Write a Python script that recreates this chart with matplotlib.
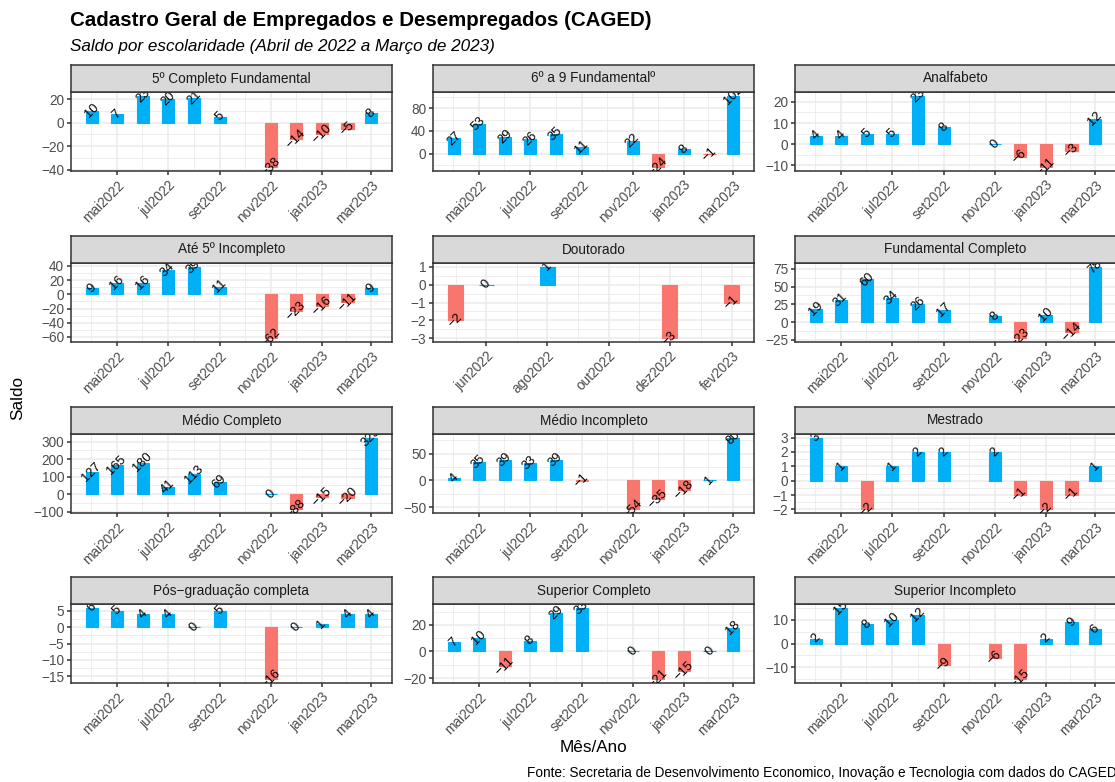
import matplotlib
matplotlib.use("Agg")
import matplotlib.pyplot as plt
import matplotlib.dates as mdates
import numpy as np
import pandas as pd

plt.rcParams["font.family"] = ["Liberation Sans", "DejaVu Sans"]

# ------------------------------------------------------------
# dados (saldo mensal por escolaridade, abr/2022 a mar/2023)
# None = mês sem registro
# ------------------------------------------------------------
meses = pd.date_range("2022-04-01", periods=12, freq="MS")
meses_pt = ["jan", "fev", "mar", "abr", "mai", "jun",
            "jul", "ago", "set", "out", "nov", "dez"]

completo_fund_5 = [10, 7, 23, 20, 21, 5, None, -38, -14, -10, -5, 8]
fund_6a9 = [27, 53, 29, 26, 35, 11, None, 22, -24, 8, -1, 102]
analfabeto = [4, 4, 5, 5, 23, 8, None, 0, -6, -11, -3, 12]
ate_5_incompleto = [9, 16, 16, 34, 39, 11, None, -62, -23, -16, -11, 9]
doutorado = [None, -2, 0, None, 1, None, None, None, -3, None, -1, None]
fund_completo = [19, 31, 60, 34, 26, 17, None, 8, -23, 10, -14, 78]
medio_completo = [127, 165, 180, 41, 113, 69, None, 0, -88, -15, -20, 323]
medio_incompleto = [4, 35, 39, 33, 39, -1, None, -54, -35, -18, 1, 80]
mestrado = [3, 1, -2, 1, 2, 2, None, 2, -1, -2, -1, 1]
pos_grad = [6, 5, 4, 4, 0, 5, None, -16, 0, 1, 4, 4]
superior_completo = [7, 10, -11, 8, 29, 33, None, 0, -21, -15, 0, 18]
superior_incompleto = [2, 15, 8, 10, 12, -9, None, -6, -15, 2, 9, 6]

titulos = ["5º Completo Fundamental", "6º a 9 Fundamentalº", "Analfabeto",
           "Até 5º Incompleto", "Doutorado", "Fundamental Completo",
           "Médio Completo", "Médio Incompleto", "Mestrado",
           "Pós−graduação completa", "Superior Completo", "Superior Incompleto"]
series = [completo_fund_5, fund_6a9, analfabeto,
          ate_5_incompleto, doutorado, fund_completo,
          medio_completo, medio_incompleto, mestrado,
          pos_grad, superior_completo, superior_incompleto]
yticks = [[-40, -20, 0, 20], [0, 40, 80], [-10, 0, 10, 20],
          [-60, -40, -20, 0, 20, 40], [-3, -2, -1, 0, 1], [-25, 0, 25, 50, 75],
          [-100, 0, 100, 200, 300], [-50, 0, 50], [-2, -1, 0, 1, 2, 3],
          [-15, -10, -5, 0, 5], [-20, 0, 20], [-10, 0, 10]]

# ------------------------------------------------------------
# estilo
# ------------------------------------------------------------
AZUL = "#00B0F6"
VERMELHO = "#F8766D"
GRID = "#EBEBEB"
BORDA = "#333333"
W, H = 1115, 782
LARG_BARRA = 15  # dias
K = 1.12  # escala das fontes

col_left = [71, 433, 795]
row_top = [65, 236, 407, 577]
panel_w, strip_h, panel_h = 321, 27, 79


def rect(left, top, w, h):
    return [left / W, 1 - (top + h) / H, w / W, h / H]


def fmt(v):
    return str(int(v)).replace("-", "\u2212")


def rotulo_mes(d):
    return f"{meses_pt[d.month - 1]}{d.year}"


fig = plt.figure(figsize=(W / 100, H / 100), dpi=100)

for i, (titulo, vals, yt) in enumerate(zip(titulos, series, yticks)):
    r, c = divmod(i, 3)
    left, top = col_left[c], row_top[r]

    v = np.array([np.nan if a is None else a for a in vals], dtype=float)
    ok = ~np.isnan(v)
    datas = meses[ok]
    x = mdates.date2num(datas)
    y = v[ok]
    cores = np.where(y >= 0, AZUL, VERMELHO)

    ax = fig.add_axes(rect(left, top + strip_h, panel_w, panel_h))
    ax.bar(x, y, width=LARG_BARRA, color=cores, edgecolor=cores,
           linewidth=0.8, zorder=2)
    for xi, yi in zip(x, y):
        ax.text(xi, yi, fmt(yi), rotation=45, ha="center", va="center",
                fontsize=8.3 * K, color="black", zorder=3, clip_on=True)

    # limites no estilo ggplot (expansão de 5%)
    lo, hi = x.min() - LARG_BARRA / 2, x.max() + LARG_BARRA / 2
    pad = 0.05 * (hi - lo)
    ax.set_xlim(lo - pad, hi + pad)
    ymin, ymax = min(0, y.min()), max(0, y.max())
    ypad = 0.05 * (ymax - ymin)
    ax.set_ylim(ymin - ypad, ymax + ypad)

    # quebras de data a cada 2 meses
    maj = pd.date_range(datas[0] - pd.DateOffset(months=1),
                        datas[-1] + pd.DateOffset(months=3), freq="2MS")
    majn = mdates.date2num(maj)
    minn = (majn[:-1] + majn[1:]) / 2
    xl = ax.get_xlim()
    sel = (majn >= xl[0]) & (majn <= xl[1])
    ax.set_xticks(majn[sel])
    ax.set_xticklabels([rotulo_mes(d) for d in maj[sel]])
    ax.set_xticks(minn[(minn >= xl[0]) & (minn <= xl[1])], minor=True)

    yt = np.array(yt, dtype=float)
    step = yt[1] - yt[0]
    ymn = np.concatenate([[yt[0] - step / 2], (yt[:-1] + yt[1:]) / 2, [yt[-1] + step / 2]])
    yl = ax.get_ylim()
    ax.set_yticks(yt)
    ax.set_yticklabels([fmt(t) for t in yt])
    ax.set_yticks(ymn[(ymn >= yl[0]) & (ymn <= yl[1])], minor=True)

    ax.grid(which="major", color=GRID, linewidth=1.1, zorder=0)
    ax.grid(which="minor", color=GRID, linewidth=0.6, zorder=0)
    ax.set_axisbelow(True)
    for s in ax.spines.values():
        s.set_color(BORDA)
        s.set_linewidth(1.1)
    ax.tick_params(which="major", length=3, width=1.1, color=BORDA,
                   labelsize=8.8 * K, labelcolor="#4D4D4D", pad=2)
    ax.tick_params(which="minor", length=0)
    for lab in ax.get_xticklabels():
        lab.set_rotation(45)
        lab.set_ha("right")
        lab.set_va("top")
        lab.set_rotation_mode("anchor")

    # faixa do título do painel
    sx = fig.add_axes(rect(left, top, panel_w, strip_h))
    sx.set_facecolor("#D9D9D9")
    sx.set_xticks([])
    sx.set_yticks([])
    for s in sx.spines.values():
        s.set_color(BORDA)
        s.set_linewidth(1.1)
    sx.text(0.5, 0.5, titulo, ha="center", va="center", fontsize=8.8 * K,
            color="#1A1A1A", transform=sx.transAxes)

fig.text(70 / W, 1 - 20 / H, "Cadastro Geral de Empregados e Desempregados (CAGED)",
         fontsize=13.2 * K, fontweight="bold", ha="left", va="center")
fig.text(70 / W, 1 - 47 / H, "Saldo por escolaridade (Abril de 2022 a Março de 2023)",
         fontsize=11 * K, style="italic", ha="left", va="center")
fig.text(18 / W, 1 - 398 / H, "Saldo", rotation=90, fontsize=11 * K,
         ha="center", va="center")
fig.text(593 / W, 1 - 748 / H, "Mês/Ano", fontsize=11 * K, ha="center", va="center")
fig.text(1117 / W, 1 - 773 / H,
         "Fonte: Secretaria de Desenvolvimento Economico, Inovação e Tecnologia com dados do CAGED",
         fontsize=8.8 * K, ha="right", va="center")

fig.savefig("out.png", dpi=100)
